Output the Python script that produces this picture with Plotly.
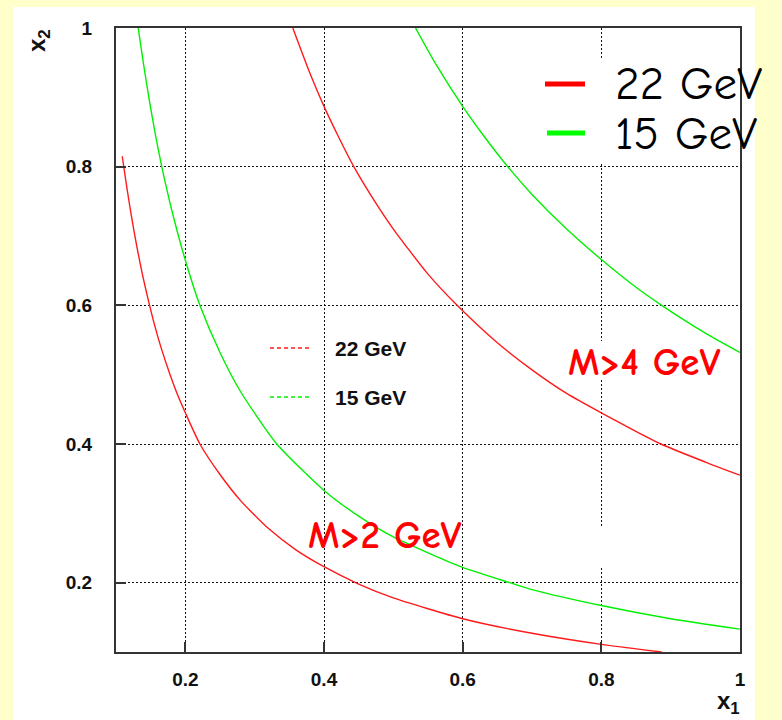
import plotly.graph_objects as go

# Kinematic boundaries in the (x1, x2) plane: x1 * x2 = M^2 / s
# M > 2 GeV, 22 GeV
red_low_x1 = [0.109, 0.115, 0.122, 0.13, 0.138, 0.146, 0.155, 0.165, 0.178, 0.19, 0.2,
              0.221, 0.25, 0.28, 0.32, 0.36, 0.4, 0.45, 0.5, 0.6, 0.7, 0.8, 0.887]
red_low_x2 = [0.815, 0.774, 0.73, 0.685, 0.645, 0.61, 0.574, 0.539, 0.50, 0.468, 0.445,
              0.40, 0.356, 0.318, 0.278, 0.247, 0.223, 0.198, 0.178, 0.148, 0.127, 0.111, 0.10]
# M > 4 GeV, 22 GeV
red_high_x1 = [0.355, 0.38, 0.4, 0.42, 0.443, 0.47, 0.5, 0.55, 0.592, 0.65, 0.7, 0.75,
               0.8, 0.886, 0.95, 1.0]
red_high_x2 = [1.0, 0.934, 0.887, 0.845, 0.80, 0.755, 0.71, 0.645, 0.60, 0.546, 0.507,
               0.473, 0.445, 0.40, 0.374, 0.355]
# M > 2 GeV, 15 GeV
green_low_x1 = [0.132, 0.14, 0.148, 0.157, 0.166, 0.18, 0.2, 0.221, 0.25, 0.28, 0.332,
                0.4, 0.45, 0.5, 0.6, 0.668, 0.7, 0.8, 0.9, 1.0]
green_low_x2 = [1.0, 0.946, 0.896, 0.845, 0.80, 0.739, 0.665, 0.60, 0.532, 0.475, 0.40,
                0.333, 0.296, 0.266, 0.222, 0.20, 0.19, 0.167, 0.148, 0.133]
# M > 4 GeV, 15 GeV
green_high_x1 = [0.532, 0.56, 0.6, 0.63, 0.665, 0.7, 0.75, 0.8, 0.85, 0.887, 0.95, 1.0]
green_high_x2 = [1.0, 0.95, 0.887, 0.845, 0.80, 0.76, 0.71, 0.666, 0.626, 0.60, 0.56, 0.532]

tick_vals = [0.2, 0.4, 0.6, 0.8, 1.0]
tick_text = ["0.2", "0.4", "0.6", "0.8", "1"]
energy_labels = ["22 GeV", "15 GeV"]
mass_labels = ["M>2 GeV", "M>4 GeV"]

RED = "#ff1a1a"
GREEN = "#00f000"
FRAME = "#333333"
W, H = 782, 720
L, R, T, B = 116, 740, 28, 652
HAND = "Comic Sans MS, Comic Neue, Open Sans"
SANS = "Liberation Sans, Arial"


def px(x):
    return (x - L) / (R - L)


def py(y):
    return (B - y) / (B - T)


fig = go.Figure()
for xs, ys, col in [(red_low_x1, red_low_x2, RED), (red_high_x1, red_high_x2, RED),
                    (green_low_x1, green_low_x2, GREEN), (green_high_x1, green_high_x2, GREEN)]:
    fig.add_trace(go.Scatter(x=xs, y=ys, mode="lines",
                             line=dict(color=col, width=1.4, shape="spline", smoothing=0.6),
                             showlegend=False, hoverinfo="skip"))

axis_common = dict(range=[0.1, 1.0], tickvals=tick_vals, ticktext=tick_text,
                   showline=True, mirror=True, linecolor=FRAME, linewidth=2,
                   ticks="inside", ticklen=10, tickwidth=2, tickcolor=FRAME,
                   showgrid=True, gridcolor="#111111", gridwidth=1.3, griddash="2px,2px",
                   zeroline=False,
                   tickfont=dict(family=SANS, size=19, color="#111111", weight="bold"))
fig.update_xaxes(**axis_common, ticklabelstandoff=9)
fig.update_yaxes(**axis_common, ticklabelstandoff=18)

shapes = [
    # white page panel
    dict(type="rect", xref="paper", yref="paper", x0=px(13), x1=px(755), y0=py(720), y1=py(7),
         fillcolor="white", line=dict(width=0), layer="below"),
    # white boxes behind the overlaid labels
    dict(type="rect", xref="paper", yref="paper", x0=px(540), x1=px(737), y0=py(164), y1=py(58),
         fillcolor="white", line=dict(width=0), layer="above"),
    dict(type="rect", xref="paper", yref="paper", x0=px(590), x1=px(612), y0=py(380), y1=py(341),
         fillcolor="white", line=dict(width=0), layer="above"),
    dict(type="rect", xref="paper", yref="paper", x0=px(560), x1=px(640), y0=py(567), y1=py(527),
         fillcolor="white", line=dict(width=0), layer="above"),
    # inner legend samples
    dict(type="line", xref="paper", yref="paper", x0=px(270), x1=px(310), y0=py(348), y1=py(348),
         line=dict(color=RED, width=1.4, dash="4px,3px")),
    dict(type="line", xref="paper", yref="paper", x0=px(270), x1=px(310), y0=py(397), y1=py(397),
         line=dict(color=GREEN, width=1.4, dash="4px,3px")),
    # large legend samples
    dict(type="line", xref="paper", yref="paper", x0=px(545), x1=px(585), y0=py(84), y1=py(84),
         line=dict(color="#ff0000", width=5), layer="above"),
    dict(type="line", xref="paper", yref="paper", x0=px(547), x1=px(585), y0=py(133), y1=py(133),
         line=dict(color="#00ff00", width=5), layer="above"),
]

annotations = [
    dict(x=px(333), y=py(348), text=f"<b>{energy_labels[0]}</b>", xanchor="left", yanchor="middle",
         font=dict(family=SANS, size=21, color="#111111")),
    dict(x=px(333), y=py(397), text=f"<b>{energy_labels[1]}</b>", xanchor="left", yanchor="middle",
         font=dict(family=SANS, size=21, color="#111111")),
    dict(x=px(613), y=py(84), text=energy_labels[0], xanchor="left", yanchor="middle",
         font=dict(family=HAND, size=47, color="black")),
    dict(x=px(613), y=py(134), text=energy_labels[1], xanchor="left", yanchor="middle",
         font=dict(family=HAND, size=47, color="black")),
    dict(x=px(385), y=py(535), text=f"<b>{mass_labels[0]}</b>", xanchor="center", yanchor="middle",
         font=dict(family=HAND, size=39, color="#ff0000")),
    dict(x=px(644), y=py(362), text=f"<b>{mass_labels[1]}</b>", xanchor="center", yanchor="middle",
         font=dict(family=HAND, size=39, color="#ff0000")),
    dict(x=px(38), y=py(41), text="<b>x<sub>2</sub></b>", textangle=-90, xanchor="center", yanchor="middle",
         font=dict(family=SANS, size=24, color="#111111")),
    dict(x=px(728), y=py(702), text="<b>x<sub>1</sub></b>", xanchor="center", yanchor="middle",
         font=dict(family=SANS, size=24, color="#111111")),
]
for a in annotations:
    a.update(xref="paper", yref="paper", showarrow=False)

fig.update_layout(width=W, height=H, margin=dict(l=L, r=W - R, t=T, b=H - B, pad=0),
                  paper_bgcolor="#ffffcc", plot_bgcolor="white",
                  shapes=shapes, annotations=annotations)

fig.write_html("out.html")
